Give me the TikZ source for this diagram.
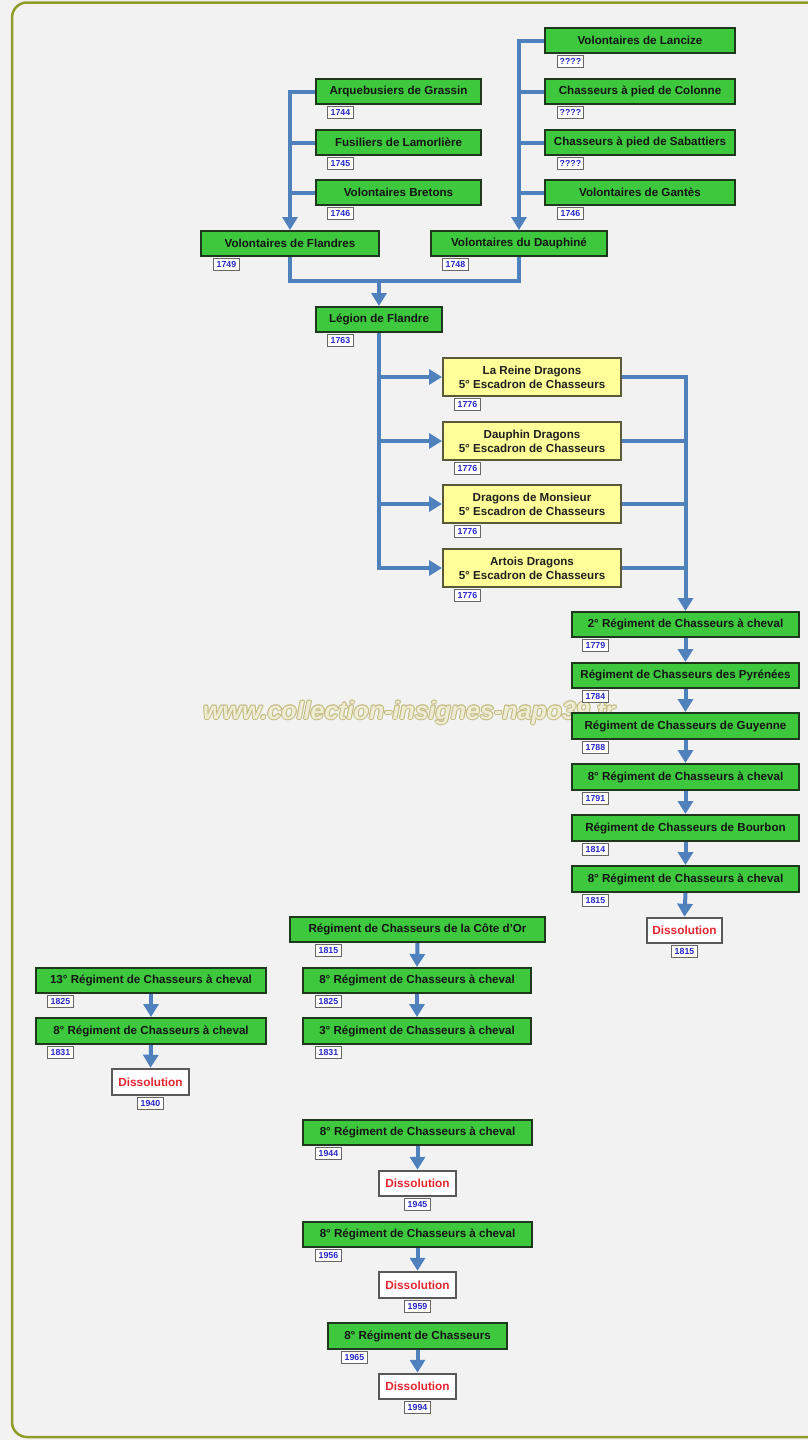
\documentclass[tikz,border=0pt]{standalone}
\usepackage{fontspec}
\setmainfont{Liberation Sans}
\usetikzlibrary{arrows.meta}
\definecolor{bg}{RGB}{242,242,242}
\definecolor{framec}{RGB}{142,156,40}
\definecolor{gfill}{RGB}{62,200,62}
\definecolor{gline}{RGB}{30,56,30}
\definecolor{yfill}{RGB}{255,255,153}
\definecolor{yline}{RGB}{90,90,58}
\definecolor{connc}{RGB}{79,129,189}
\definecolor{yrtext}{RGB}{40,40,200}
\definecolor{redtext}{RGB}{228,38,48}
\definecolor{wmfill}{RGB}{238,236,212}
\definecolor{wmline}{RGB}{196,188,128}
\newcommand\bx[7]{\node[#1, minimum width={(#5-#3)*1pt}, minimum height={(#6-#4)*1pt}] (#2) at ({(#3+#5)/2},{(#4+#6)/2}) {#7};}
\newcommand\yr[3]{\node[yrbox,anchor=north west] (#1y) at ([xshift=#2pt,yshift=-0.5pt]#1.south west) {#3};}
\newcommand\dyr[2]{\node[yrbox,anchor=north] (#1y) at ([yshift=-0.5pt]#1.south) {#2};}
\begin{document}
\begin{tikzpicture}[x=1pt,y=-1pt,
 gbox/.style={draw=gline, fill=gfill, line width=2pt, inner sep=0pt, text=black!92, font=\fontsize{11.6}{13}\selectfont\bfseries},
 ybox/.style={draw=yline, fill=yfill, line width=2pt, inner sep=0pt, align=center, text=black!88, font=\fontsize{11.6}{14}\selectfont\bfseries},
 dbox/.style={draw=black!65, fill=white, line width=2.5pt, inner sep=0pt, text=redtext, font=\fontsize{11.8}{13}\selectfont\bfseries},
 yrbox/.style={draw=black!60, fill=white, line width=0.9pt, inner sep=0pt, minimum width=26pt, minimum height=12.5pt, text=yrtext, font=\fontsize{8.8}{9}\selectfont\bfseries},
 conn/.style={draw=connc, line width=4pt, line join=miter},
 arr/.style={conn, -{Triangle[width=15pt,length=13pt]}},
 wm/.style={anchor=base west, inner sep=0pt, font=\fontsize{25}{25}\selectfont\bfseries\itshape},
]
\useasboundingbox (0,0) rectangle (808,1440);
\fill[bg] (0,0) rectangle (808,1440);
\begin{scope}
\clip (0,0) rectangle (808,1440);
\draw[framec, line width=2.5pt, rounded corners=15pt] (12,2.5) rectangle (840,1437);
\end{scope}
% watermark
\foreach \dx/\dy in {-1/0,1/0,0/-1,0/1,-0.7/-0.7,0.7/0.7,-0.7/0.7,0.7/-0.7}
  \node[wm, text=wmline] at (203+\dx,719+\dy) {www.collection-insignes-napo39.fr};
\node[wm, text=wmfill] (wm) at (203,719) {www.collection-insignes-napo39.fr};
% top groups
\bx{gbox}{lan}{545}{28}{735}{53}{Volontaires de Lancize}
\bx{gbox}{col}{545}{79}{735}{104}{Chasseurs à pied de Colonne}
\bx{gbox}{sab}{545}{130}{735}{155}{Chasseurs à pied de Sabattiers}
\bx{gbox}{gan}{545}{180}{735}{205}{Volontaires de Gantès}
\bx{gbox}{arq}{316}{79}{481}{104}{Arquebusiers de Grassin}
\bx{gbox}{fus}{316}{130}{481}{155}{Fusiliers de Lamorlière}
\bx{gbox}{bre}{316}{180}{481}{205}{Volontaires Bretons}
\bx{gbox}{fla}{201}{231}{379}{256}{Volontaires de Flandres}
\bx{gbox}{dau}{431}{231}{607}{256}{Volontaires du Dauphiné}
\bx{gbox}{leg}{316}{307}{442}{332}{Légion de Flandre}
\yr{lan}{13}{????}\yr{col}{13}{????}\yr{sab}{13}{????}\yr{gan}{13}{1746}
\yr{arq}{12}{1744}\yr{fus}{12}{1745}\yr{bre}{12}{1746}
\yr{fla}{13}{1749}\yr{dau}{12}{1748}\yr{leg}{12}{1763}
% yellow
\bx{ybox}{ya}{443}{358}{621}{396}{La Reine Dragons\\5° Escadron de Chasseurs}
\bx{ybox}{yb}{443}{422}{621}{460}{Dauphin Dragons\\5° Escadron de Chasseurs}
\bx{ybox}{yc}{443}{485}{621}{523}{Dragons de Monsieur\\5° Escadron de Chasseurs}
\bx{ybox}{yd}{443}{549}{621}{587}{Artois Dragons\\5° Escadron de Chasseurs}
\yr{ya}{12}{1776}\yr{yb}{12}{1776}\yr{yc}{12}{1776}\yr{yd}{12}{1776}
% right column
\bx{gbox}{ra}{572}{612}{799}{637}{2° Régiment de Chasseurs à cheval}
\bx{gbox}{rb}{572}{663}{799}{688}{Régiment de Chasseurs des Pyrénées}
\bx{gbox}{rc}{572}{713}{799}{739}{Régiment de Chasseurs de Guyenne}
\bx{gbox}{rd}{572}{764}{799}{790}{8° Régiment de Chasseurs à cheval}
\bx{gbox}{re}{572}{815}{799}{841}{Régiment de Chasseurs de Bourbon}
\bx{gbox}{rf}{572}{866}{799}{892}{8° Régiment de Chasseurs à cheval}
\bx{dbox}{da}{647}{918}{722}{943}{Dissolution}
\yr{ra}{11}{1779}\yr{rb}{11}{1784}\yr{rc}{11}{1788}\yr{rd}{11}{1791}\yr{re}{11}{1814}\yr{rf}{11}{1815}
\dyr{da}{1815}
% middle group
\bx{gbox}{ma}{290}{917}{545}{942}{Régiment de Chasseurs de la Côte d'Or}
\bx{gbox}{mb}{303}{968}{531}{993}{8° Régiment de Chasseurs à cheval}
\bx{gbox}{mc}{303}{1018}{531}{1044}{3° Régiment de Chasseurs à cheval}
\yr{ma}{26}{1815}\yr{mb}{13}{1825}\yr{mc}{13}{1831}
% left group
\bx{gbox}{la}{36}{968}{266}{993}{13° Régiment de Chasseurs à cheval}
\bx{gbox}{lb}{36}{1018}{266}{1044}{8° Régiment de Chasseurs à cheval}
\bx{dbox}{db}{112}{1069}{189}{1095}{Dissolution}
\yr{la}{12}{1825}\yr{lb}{12}{1831}\dyr{db}{1940}
% bottom group
\bx{gbox}{ba}{303}{1120}{532}{1145}{8° Régiment de Chasseurs à cheval}
\bx{dbox}{dc}{379}{1171}{456}{1196}{Dissolution}
\bx{gbox}{bb}{303}{1222}{532}{1247}{8° Régiment de Chasseurs à cheval}
\bx{dbox}{dd}{379}{1272}{456}{1298}{Dissolution}
\bx{gbox}{bc}{328}{1323}{507}{1349}{8° Régiment de Chasseurs}
\bx{dbox}{de}{379}{1374}{456}{1399}{Dissolution}
\yr{ba}{13}{1944}\yr{bb}{13}{1956}\yr{bc}{14}{1965}
\dyr{dc}{1945}\dyr{dd}{1959}\dyr{de}{1994}
% connectors
\draw[arr] (arq.west) -| (fla.north);
\draw[conn] (fus.west) -- (fus.west -| fla.north);
\draw[conn] (bre.west) -- (bre.west -| fla.north);
\draw[arr] (lan.west) -| (dau.north);
\draw[conn] (col.west) -- (col.west -| dau.north);
\draw[conn] (sab.west) -- (sab.west -| dau.north);
\draw[conn] (gan.west) -- (gan.west -| dau.north);
\coordinate (mg) at (379,281);
\draw[conn] (fla.south) |- (mg) -| (dau.south);
\draw[arr] (mg) -- (leg.north);
\draw[arr] (leg.south) |- (yd.west);
\draw[arr] (ya.west -| leg.south) -- (ya.west);
\draw[arr] (yb.west -| leg.south) -- (yb.west);
\draw[arr] (yc.west -| leg.south) -- (yc.west);
\draw[arr] (ya.east) -| (ra.north);
\draw[conn] (yb.east) -- (yb.east -| ra.north);
\draw[conn] (yc.east) -- (yc.east -| ra.north);
\draw[conn] (yd.east) -- (yd.east -| ra.north);
\draw[arr] (ra.south) -- (rb.north);
\draw[arr] (rb.south) -- (rc.north);
\draw[arr] (rc.south) -- (rd.north);
\draw[arr] (rd.south) -- (re.north);
\draw[arr] (re.south) -- (rf.north);
\draw[arr] (rf.south) -- (da.north);
\draw[arr] (ma.south) -- (mb.north);
\draw[arr] (mb.south) -- (mc.north);
\draw[arr] (la.south) -- (lb.north);
\draw[arr] (lb.south) -- (db.north);
\draw[arr] (ba.south) -- (dc.north);
\draw[arr] (bb.south) -- (dd.north);
\draw[arr] (bc.south) -- (de.north);
\end{tikzpicture}
\end{document}
